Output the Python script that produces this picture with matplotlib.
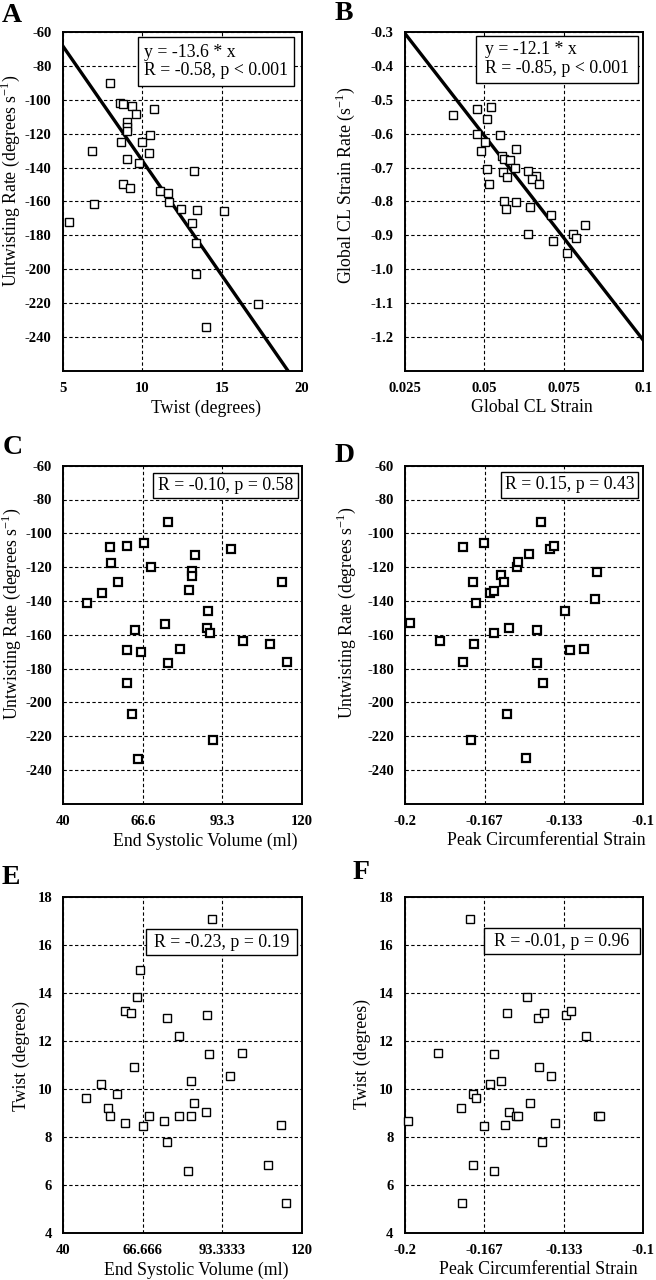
import numpy as np
import matplotlib
matplotlib.use("Agg")
import matplotlib.pyplot as plt
from matplotlib.patches import Rectangle

plt.rcParams['font.family'] = ['Liberation Serif', 'DejaVu Serif']
plt.rcParams['axes.unicode_minus'] = False
plt.rcParams['mathtext.fontset'] = 'custom'
plt.rcParams['mathtext.rm'] = 'Liberation Serif'

# ---------------- Data ----------------
# Panel A: Twist vs Untwisting rate
a_twist = [7.97, 8.59, 8.80, 9.32, 9.60, 10.70, 9.03, 9.03, 9.03, 10.49, 8.63, 9.99,
           6.82, 10.39, 9.01, 9.80, 13.25, 8.80, 9.22, 11.10, 11.62, 11.66, 6.98, 12.40,
           13.44, 15.13, 5.38, 13.13, 13.38, 13.34, 17.26, 13.98]
a_untwist = [-89.8, -101.6, -102.6, -103.5, -108.5, -105.1, -112.8, -115.8, -118.3, -120.5,
             -125.0, -124.6, -130.0, -131.1, -134.9, -137.4, -142.0, -149.5, -152.2, -153.6,
             -154.8, -160.3, -161.5, -164.2, -165.2, -165.8, -171.9, -172.5, -184.7, -203.1,
             -220.8, -234.0]
a_slope = -13.6

# Panel B: Global CL strain vs strain rate
b_strain = [0.0402, 0.0477, 0.0521, 0.0509, 0.0476, 0.0549, 0.0501, 0.0489, 0.0601, 0.0555,
            0.0562, 0.0582, 0.0596, 0.0510, 0.0558, 0.0572, 0.0639, 0.0662, 0.0651, 0.0671,
            0.0514, 0.0562, 0.0568, 0.0601, 0.0644, 0.0711, 0.0638, 0.0716, 0.0780, 0.0789,
            0.0817, 0.0759]
b_rate = [-0.544, -0.527, -0.522, -0.556, -0.602, -0.604, -0.623, -0.650, -0.645, -0.666,
          -0.673, -0.676, -0.702, -0.705, -0.712, -0.728, -0.711, -0.725, -0.734, -0.748,
          -0.747, -0.798, -0.823, -0.801, -0.816, -0.840, -0.895, -0.916, -0.895, -0.907,
          -0.870, -0.952]
b_slope = -12.1

# Panel C: ESV vs untwisting rate
c_esv = [48.0, 53.0, 55.6, 56.1, 58.2, 61.2, 61.2, 61.2, 63.0, 64.0, 65.1, 66.1, 67.2, 69.4,
         74.1, 75.2, 75.2, 79.1, 82.2, 83.1, 83.2, 84.0, 88.2, 88.6, 89.2, 90.2, 96.1, 100.1,
         109.4, 113.2, 115.1]
c_untwist = [-141.1, -135.4, -108.2, -117.3, -128.7, -107.8, -169.0, -188.5, -206.9, -157.3,
             -233.5, -170.2, -105.8, -120.2, -153.4, -93.4, -176.5, -168.4, -133.8, -122.4,
             -125.2, -112.9, -156.0, -146.1, -159.1, -222.5, -109.0, -164.0, -165.4, -129.1,
             -175.9]

# Panel D: Peak circumferential strain vs untwisting rate
d_strain = [-0.1982, -0.1856, -0.1758, -0.1758, -0.1714, -0.1710, -0.1702, -0.1724, -0.1669,
            -0.1644, -0.1626, -0.1626, -0.1597, -0.1584, -0.1573, -0.1563, -0.1531, -0.1527,
            -0.1492, -0.1480, -0.1447, -0.1447, -0.1429, -0.1422, -0.1394, -0.1377, -0.1329,
            -0.1308, -0.1249, -0.1203, -0.1196]
d_untwist = [-153.2, -164.0, -108.0, -175.9, -128.7, -165.6, -141.1, -222.5, -105.6, -135.2,
             -134.0, -158.9, -124.8, -129.1, -206.9, -156.2, -120.2, -116.9, -232.8, -112.5,
             -157.1, -176.5, -93.2, -188.5, -109.2, -107.4, -146.1, -169.0, -168.4, -138.6,
             -122.8]

# Panel E: ESV vs twist
e_esv = [47.7, 52.7, 55.1, 55.6, 57.9, 60.8, 60.8, 62.8, 63.8, 64.6, 65.8, 66.8, 68.7, 73.6,
         74.7, 74.7, 78.9, 78.8, 81.8, 82.8, 82.9, 83.7, 87.8, 88.2, 88.8, 89.7, 95.8, 99.9,
         108.7, 112.8, 114.7]
e_twist = [9.64, 10.21, 9.19, 8.89, 9.80, 13.25, 8.58, 13.17, 10.93, 13.83, 14.97, 8.45, 8.89,
           8.66, 12.98, 7.77, 12.22, 8.87, 6.59, 10.35, 8.87, 9.43, 9.05, 13.10, 11.47, 17.11,
           10.53, 11.49, 6.83, 8.50, 5.23]

# Panel F: Peak circumferential strain vs twist
f_strain = [-0.1987, -0.1860, -0.1763, -0.1758, -0.1728, -0.1715, -0.1701, -0.1712, -0.1668,
            -0.1642, -0.1626, -0.1626, -0.1595, -0.1581, -0.1571, -0.1561, -0.1532, -0.1524,
            -0.1489, -0.1476, -0.1443, -0.1439, -0.1418, -0.1425, -0.1387, -0.1370, -0.1323,
            -0.1302, -0.1242, -0.1191, -0.1182]
f_twist = [8.66, 11.49, 9.19, 5.23, 17.11, 9.79, 9.64, 6.83, 8.45, 10.21, 11.47, 6.59, 10.35,
           8.50, 13.17, 9.05, 8.89, 8.89, 13.83, 9.43, 12.98, 10.93, 13.19, 7.77, 10.53, 8.56,
           13.10, 13.25, 12.22, 8.86, 8.86]

# Tick labels
untwist_ticks = [-60, -80, -100, -120, -140, -160, -180, -200, -220, -240]
untwist_ticklabels = ['-60', '-80', '-100', '-120', '-140', '-160', '-180', '-200', '-220', '-240']
twist_x_ticks = [5, 10, 15, 20]
twist_x_ticklabels = ['5', '10', '15', '20']
rate_ticks = [-0.3, -0.4, -0.5, -0.6, -0.7, -0.8, -0.9, -1.0, -1.1, -1.2]
rate_ticklabels = ['-0.3', '-0.4', '-0.5', '-0.6', '-0.7', '-0.8', '-0.9', '-1.0', '-1.1', '-1.2']
strain_ticks = [0.025, 0.05, 0.075, 0.1]
strain_ticklabels = ['0.025', '0.05', '0.075', '0.1']
esv_ticks = [40, 66.6667, 93.3333, 120]
esv_ticklabels_c = ['40', '66.6', '93.3', '120']
esv_ticklabels_e = ['40', '66.666', '93.3333', '120']
pcs_ticks = [-0.2, -0.16667, -0.13333, -0.1]
pcs_ticklabels = ['-0.2', '-0.167', '-0.133', '-0.1']
twist_y_ticks = [4, 6, 8, 10, 12, 14, 16, 18]
twist_y_ticklabels = ['4', '6', '8', '10', '12', '14', '16', '18']

# ---------------- Figure ----------------
W, H = 656, 1280
fig = plt.figure(figsize=(W / 100, H / 100), dpi=100)


def px_axes(l, t, r, b):
    return fig.add_axes([l / W, 1 - b / H, (r - l) / W, (b - t) / H])


TICK_FS = 10.5
LABEL_FS = 12.8
BOX_FS = 12.8
GRID_LS = (0, (3, 2.2))


def style(ax, xlim, ylim, xt, xtl, yt, ytl, xlabel, ylabel, xlab_x, ylab_y, ylab_x):
    ax.set_xlim(*xlim)
    ax.set_ylim(*ylim)
    ax.set_xticks(xt)
    ax.set_xticklabels(xtl)
    ax.set_yticks(yt)
    ax.set_yticklabels(ytl)
    ax.tick_params(length=0, labelsize=TICK_FS, pad=8)
    for lab in ax.get_xticklabels() + ax.get_yticklabels():
        lab.set_fontweight('bold')
    for s in ax.spines.values():
        s.set_linewidth(1.4)
        s.set_color('black')
    ax.grid(True, color='black', linestyle=GRID_LS, linewidth=0.8)
    ax.set_axisbelow(True)
    ax.set_xlabel(xlabel, fontsize=LABEL_FS)
    ax.set_ylabel(ylabel, fontsize=LABEL_FS)
    ax.xaxis.set_label_coords(xlab_x, -0.085)
    ax.yaxis.set_label_coords(ylab_x, ylab_y)


def box(ax, text, x0, y0, x1, y1):
    ax.add_patch(Rectangle((x0, y0), x1 - x0, y1 - y0, transform=ax.transAxes,
                           facecolor='white', edgecolor='black', linewidth=1.0,
                           zorder=5, clip_on=False))
    ax.text((x0 + x1) / 2, (y0 + y1) / 2, text, transform=ax.transAxes, ha='center',
            va='center', fontsize=BOX_FS, linespacing=1.12, multialignment='left', zorder=6)


def scatter(ax, x, y, mew):
    ax.plot(x, y, linestyle='none', marker='s', markersize=5.4, markerfacecolor='white',
            markeredgecolor='black', markeredgewidth=mew, zorder=4, clip_on=False)


def panel_letter(x, y, s):
    fig.text(x / W, 1 - y / H, s, fontsize=20, fontweight='bold', ha='left', va='top')


ulabel = r'Untwisting Rate (degrees s$^{\mathregular{-1}}$)'

# A
axA = px_axes(62.7, 32.3, 302, 370.7)
scatter(axA, a_twist, a_untwist, 1.0)
xl = np.array([5, 20])
axA.plot(xl, a_slope * xl, color='black', linewidth=2.4, zorder=3)
style(axA, (5, 20), (-260, -60), twist_x_ticks, twist_x_ticklabels, untwist_ticks,
      untwist_ticklabels, 'Twist (degrees)', ulabel, 0.599, 0.561, -0.17)
box(axA, 'y = -13.6 * x\nR = -0.58, p < 0.001', 0.313, 0.842, 0.968, 0.985)
panel_letter(2, 3, 'A')

# B
axB = px_axes(404.7, 32.3, 643.3, 370.7)
scatter(axB, b_strain, b_rate, 1.0)
xl = np.array([0.025, 0.1])
axB.plot(xl, b_slope * xl, color='black', linewidth=2.4, zorder=3)
style(axB, (0.025, 0.1), (-1.3, -0.3), strain_ticks, strain_ticklabels, rate_ticks,
      rate_ticklabels, 'Global CL Strain', r'Global CL Strain Rate (s$^{\mathregular{-1}}$)',
      0.534, 0.549, -0.2)
box(axB, 'y = -12.1 * x\nR = -0.85, p < 0.001', 0.298, 0.851, 0.978, 0.990)
panel_letter(335, 1, 'B')

# C
axC = px_axes(63.3, 465.7, 302, 803.7)
scatter(axC, c_esv, c_untwist, 1.6)
style(axC, (40, 120), (-260, -60), esv_ticks, esv_ticklabels_c, untwist_ticks,
      untwist_ticklabels, 'End Systolic Volume (ml)', ulabel, 0.594, 0.561, -0.17)
box(axC, 'R = -0.10, p = 0.58', 0.375, 0.904, 0.982, 0.979)
panel_letter(3, 435, 'C')

# D
axD = px_axes(405.3, 465.7, 643.3, 803.7)
scatter(axD, d_strain, d_untwist, 1.6)
style(axD, (-0.2, -0.1), (-260, -60), pcs_ticks, pcs_ticklabels, untwist_ticks,
      untwist_ticklabels, 'Peak Circumferential Strain', ulabel, 0.591, 0.566, -0.2)
box(axD, 'R = 0.15, p = 0.43', 0.403, 0.905, 0.978, 0.982)
panel_letter(335, 443, 'D')

# E
axE = px_axes(63.3, 897.3, 302, 1232.7)
scatter(axE, e_esv, e_twist, 1.0)
style(axE, (40, 120), (4, 18), esv_ticks, esv_ticklabels_e, twist_y_ticks,
      twist_y_ticklabels, 'End Systolic Volume (ml)', 'Twist (degrees)', 0.556, 0.527, -0.14)
box(axE, 'R = -0.23, p = 0.19', 0.345, 0.827, 0.978, 0.905)
panel_letter(2, 865, 'E')

# F
axF = px_axes(404.7, 897.3, 643.3, 1232.7)
scatter(axF, f_strain, f_twist, 1.0)
style(axF, (-0.2, -0.1), (4, 18), pcs_ticks, pcs_ticklabels, twist_y_ticks,
      twist_y_ticklabels, 'Peak Circumferential Strain', 'Twist (degrees)', 0.559, 0.532, -0.14)
box(axF, 'R = -0.01, p = 0.96', 0.331, 0.830, 0.987, 0.909)
panel_letter(353, 860, 'F')

fig.savefig('out.png', dpi=100)
